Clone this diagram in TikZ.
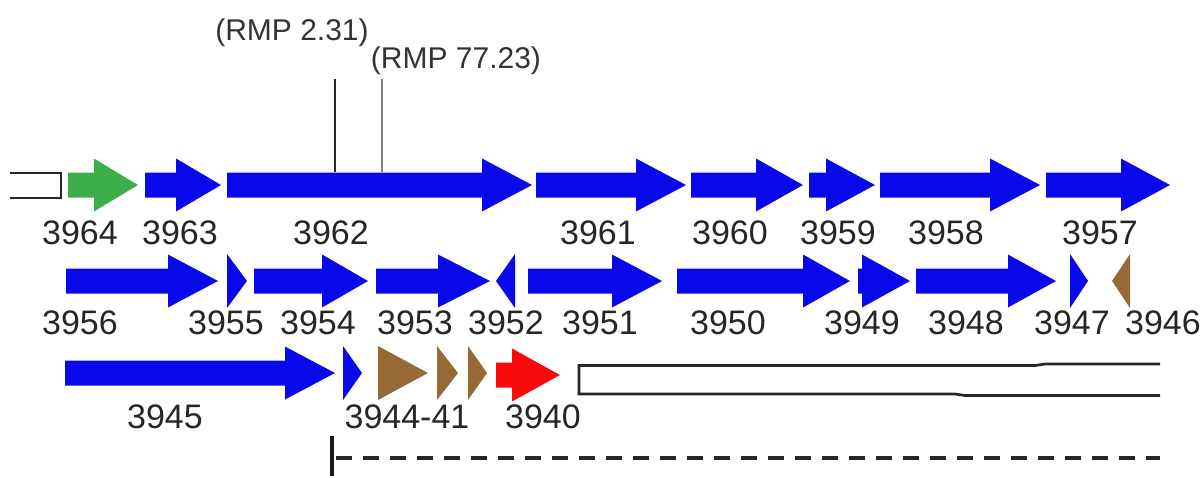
\documentclass[tikz,border=0pt]{standalone}
\usepackage{fontspec}
\setmainfont{Liberation Sans}
\definecolor{gblue}{RGB}{8,8,235}
\definecolor{ggreen}{RGB}{60,175,75}
\definecolor{gbrown}{RGB}{150,105,55}
\definecolor{gred}{RGB}{250,10,10}
\newcommand\garrow[5]{\fill[#1] (#2,#5-12.5) -- (#3,#5-12.5) -- (#3,#5-26.5) -- (#4,#5) -- (#3,#5+26.5) -- (#3,#5+12.5) -- (#2,#5+12.5) -- cycle;}
\newcommand\gtri[4]{\fill[#1] (#2,#4-27) -- (#3,#4) -- (#2,#4+27) -- cycle;}
\tikzset{
  lbl/.style={font=\fontsize{34}{34}\selectfont, inner sep=0pt, text=black!85},
  rmp/.style={font=\fontsize{30}{30}\selectfont, inner sep=0pt, text=black!80},
  boxline/.style={line width=2.7pt, draw=black!85}
}
\begin{document}
\begin{tikzpicture}[x=1pt,y=-1pt]
\useasboundingbox (0,0) rectangle (1203,477);
% row 1
\draw[boxline] (10,173) -- (61,173) -- (61,198) -- (10,198);
\garrow{ggreen}{68}{94}{138}{185}
\garrow{gblue}{145}{176}{221}{185}
\garrow{gblue}{227}{482}{532}{185}
\garrow{gblue}{536}{636}{686}{185}
\garrow{gblue}{691}{756}{803}{185}
\garrow{gblue}{809}{826}{875}{185}
\garrow{gblue}{880}{990}{1040}{185}
\garrow{gblue}{1046}{1121}{1170}{185}
\node[lbl] (l3964) at (80,233) {3964};
\node[lbl] (l3963) at (180,233) {3963};
\node[lbl] (l3962) at (331,233) {3962};
\node[lbl] (l3961) at (598,233) {3961};
\node[lbl] (l3960) at (730,233) {3960};
\node[lbl] (l3959) at (838,233) {3959};
\node[lbl] (l3958) at (946,233) {3958};
\node[lbl] (l3957) at (1100,233) {3957};
% RMP
\node[rmp] (r1) at (292,33) {(RMP 2.31)};
\node[rmp] (r2) at (456,61) {(RMP 77.23)};
\coordinate (m1top) at (335,79);
\coordinate (m1bot) at (335,172);
\coordinate (m2top) at (382,79);
\coordinate (m2bot) at (382,172);
\draw[line width=1.3pt, black!85] (m1top) -- (m1bot);
\draw[line width=1.5pt, black!50] (m2top) -- (m2bot);
% row 2
\garrow{gblue}{66}{168}{218}{281}
\gtri{gblue}{227}{247}{281}
\garrow{gblue}{254}{322}{368}{281}
\garrow{gblue}{376}{438}{490}{281}
\gtri{gblue}{515}{496}{281}
\garrow{gblue}{528}{612}{662}{281}
\garrow{gblue}{677}{803}{850}{281}
\garrow{gblue}{858}{862}{910}{281}
\garrow{gblue}{916}{1008}{1056}{281}
\gtri{gblue}{1070}{1088}{281}
\gtri{gbrown}{1130}{1112}{281}
\node[lbl] (l3956) at (80,322.5) {3956};
\node[lbl] (l3955) at (226,322.5) {3955};
\node[lbl] (l3954) at (318,322.5) {3954};
\node[lbl] (l3953) at (415,322.5) {3953};
\node[lbl] (l3952) at (506,322.5) {3952};
\node[lbl] (l3951) at (600,322.5) {3951};
\node[lbl] (l3950) at (728,322.5) {3950};
\node[lbl] (l3949) at (862,322.5) {3949};
\node[lbl] (l3948) at (966,322.5) {3948};
\node[lbl] (l3947) at (1072,322.5) {3947};
\node[lbl] (l3946) at (1163,322.5) {3946};
% row 3
\garrow{gblue}{65}{285}{335}{373}
\gtri{gblue}{343}{362}{373}
\gtri{gbrown}{378}{428}{373}
\gtri{gbrown}{437}{458}{373}
\gtri{gbrown}{468}{487}{373}
\garrow{gred}{496}{512}{560}{375}
\draw[boxline] (1160,364) -- (1045,364) -- (1035,365.5) -- (579,365.5) -- (579,394) -- (955,394) -- (965,395.5) -- (1160,395.5);
\node[lbl] (l3945) at (165,417) {3945};
\node[lbl] (l3944) at (407,417) {3944-41};
\node[lbl] (l3940) at (543,417) {3940};
% scale bar
\coordinate (bartop) at (332,436);
\coordinate (barbot) at (332,476);
\coordinate (dstart) at (336,458);
\coordinate (dend) at (1160,458);
\draw[line width=4pt, black!90] (bartop) -- (barbot);
\draw[line width=3.5pt, black!85, dash pattern=on 16pt off 11pt] (dstart) -- (dend);
\end{tikzpicture}
\end{document}
